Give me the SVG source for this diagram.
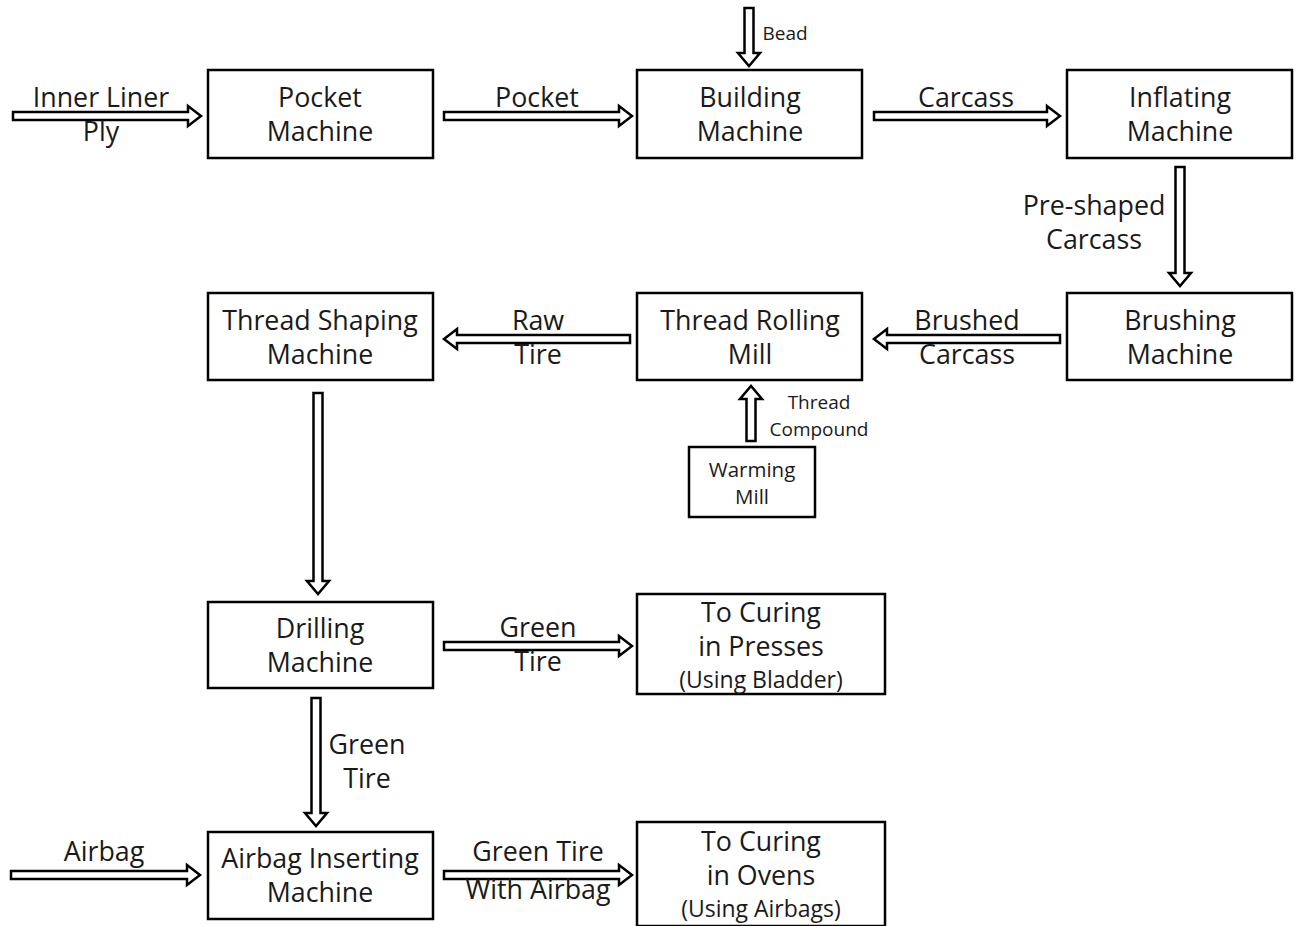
<svg xmlns="http://www.w3.org/2000/svg" width="1296" height="926" viewBox="0 0 1296 926">
<style>
.box{fill:#fff;stroke:#000;stroke-width:2.5}
.arr{fill:#fff;stroke:#000;stroke-width:2.5;stroke-linejoin:miter}
text{font-family:"Open Sans","Liberation Sans",sans-serif;fill:#1a1a1a;text-anchor:middle}
.t{font-size:26.8px}
.s{font-size:19px}
.w{font-size:20.5px}
.m{font-size:23px}
</style>
<rect width="1296" height="926" fill="#fff"/>
<g id="connectors">
<path class="arr" d="M13,112 H188 V106 L201,116 L188,126 V120 H13 Z"/>
<path class="arr" d="M444,112 H619 V106 L632,116 L619,126 V120 H444 Z"/>
<path class="arr" d="M874,112 H1047 V106 L1060,116 L1047,126 V120 H874 Z"/>
<path class="arr" d="M444,642 H619 V636 L632,646 L619,656 V650 H444 Z"/>
<path class="arr" d="M11,871 H187 V865 L200,875 L187,885 V879 H11 Z"/>
<path class="arr" d="M444,871 H619 V865 L632,875 L619,885 V879 H444 Z"/>
<path class="arr" d="M1060,335 H887 V329 L874,339 L887,349 V343 H1060 Z"/>
<path class="arr" d="M630,335 H457 V329 L444,339 L457,349 V343 H630 Z"/>
<path class="arr" d="M744.5,8 V53 H738 L749,66 L760,53 H753.5 V8 Z"/>
<path class="arr" d="M1175.5,167 V273 H1169 L1180,286 L1191,273 H1184.5 V167 Z"/>
<path class="arr" d="M313.5,393 V581 H307 L318,594 L329,581 H322.5 V393 Z"/>
<path class="arr" d="M311.5,698 V813 H305 L316,826 L327,813 H320.5 V698 Z"/>
<path class="arr" d="M746.5,441 V399 H740 L751,386 L762,399 H755.5 V441 Z"/>
</g>
<g id="connector-labels">
<text class="t" x="101" y="107">Inner Liner</text>
<text class="t" x="101" y="141">Ply</text>
<text class="t" x="537" y="107">Pocket</text>
<text class="t" x="966" y="107">Carcass</text>
<text class="s" x="785" y="40">Bead</text>
<text class="t" x="1094" y="215">Pre-shaped</text>
<text class="t" x="1094" y="249">Carcass</text>
<text class="t" x="967" y="330">Brushed</text>
<text class="t" x="967" y="364">Carcass</text>
<text class="t" x="538" y="330">Raw</text>
<text class="t" x="538" y="364">Tire</text>
<text class="s" x="819" y="409">Thread</text>
<text class="s" x="819" y="436">Compound</text>
<text class="t" x="538" y="637">Green</text>
<text class="t" x="538" y="671">Tire</text>
<text class="t" x="367" y="754">Green</text>
<text class="t" x="367" y="788">Tire</text>
<text class="t" x="104" y="861">Airbag</text>
<text class="t" x="538" y="861">Green Tire</text>
<text class="t" x="538" y="899">With Airbag</text>
</g>
<g id="pocket-machine">
<rect class="box" x="208" y="70" width="225" height="88"/>
<text class="t" x="320" y="107">Pocket</text>
<text class="t" x="320" y="141">Machine</text>
</g>
<g id="building-machine">
<rect class="box" x="637" y="70" width="225" height="88"/>
<text class="t" x="750" y="107">Building</text>
<text class="t" x="750" y="141">Machine</text>
</g>
<g id="inflating-machine">
<rect class="box" x="1067" y="70" width="225" height="88"/>
<text class="t" x="1180" y="107">Inflating</text>
<text class="t" x="1180" y="141">Machine</text>
</g>
<g id="brushing-machine">
<rect class="box" x="1067" y="293" width="225" height="87"/>
<text class="t" x="1180" y="330">Brushing</text>
<text class="t" x="1180" y="364">Machine</text>
</g>
<g id="thread-rolling-mill">
<rect class="box" x="637" y="293" width="225" height="87"/>
<text class="t" x="750" y="330">Thread Rolling</text>
<text class="t" x="750" y="364">Mill</text>
</g>
<g id="thread-shaping-machine">
<rect class="box" x="208" y="293" width="225" height="87"/>
<text class="t" x="320" y="330">Thread Shaping</text>
<text class="t" x="320" y="364">Machine</text>
</g>
<g id="warming-mill">
<rect class="box" x="689" y="447" width="126" height="70"/>
<text class="w" x="752" y="477">Warming</text>
<text class="w" x="752" y="504">Mill</text>
</g>
<g id="drilling-machine">
<rect class="box" x="208" y="602" width="225" height="86"/>
<text class="t" x="320" y="638">Drilling</text>
<text class="t" x="320" y="672">Machine</text>
</g>
<g id="curing-presses">
<rect class="box" x="637" y="594" width="248" height="100"/>
<text class="t" x="761" y="622">To Curing</text>
<text class="t" x="761" y="656">in Presses</text>
<text class="m" x="761" y="688">(Using Bladder)</text>
</g>
<g id="airbag-inserting-machine">
<rect class="box" x="208" y="832" width="225" height="87"/>
<text class="t" x="320" y="868">Airbag Inserting</text>
<text class="t" x="320" y="902">Machine</text>
</g>
<g id="curing-ovens">
<rect class="box" x="637" y="822" width="248" height="104"/>
<text class="t" x="761" y="851">To Curing</text>
<text class="t" x="761" y="885">in Ovens</text>
<text class="m" x="761" y="917">(Using Airbags)</text>
</g>
</svg>
